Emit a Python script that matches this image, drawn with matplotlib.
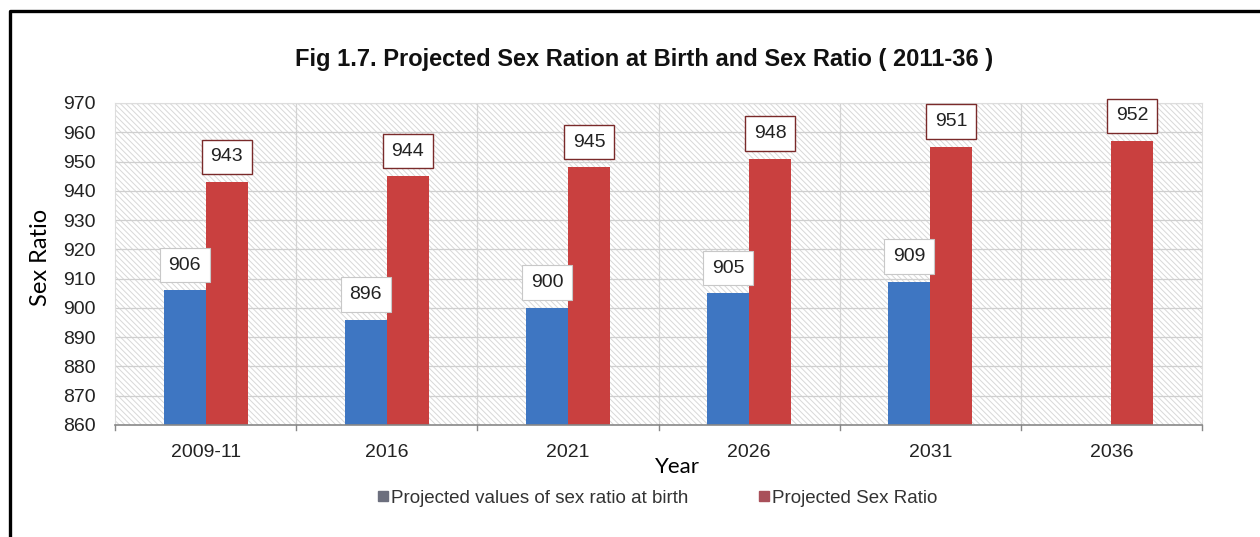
import numpy as np
import matplotlib
matplotlib.use('Agg')
import matplotlib.pyplot as plt
from matplotlib.patches import Rectangle
from matplotlib.lines import Line2D

years = ['2009-11', '2016', '2021', '2026', '2031', '2036']
srb_values = [906, 896, 900, 905, 909, np.nan]
sr_bar_values = [943, 945, 948, 951, 955, 957]
sr_labels = ['943', '944', '945', '948', '951', '952']
y_ticks = list(range(860, 971, 10))

blue = '#3e76c2'
red = '#c9403f'

plt.rcParams['font.family'] = ['Liberation Sans', 'DejaVu Sans']
plt.rcParams['hatch.color'] = '#d8d8d8'
plt.rcParams['hatch.linewidth'] = 0.7

fig = plt.figure(figsize=(12.6, 5.37), dpi=100)
ax = fig.add_axes([0.0913, 0.2086, 0.8627, 0.5996])

# hatched background like the excel plot area
bg = Rectangle((0, 0), 1, 1, transform=ax.transAxes, facecolor='white',
               edgecolor='#d8d8d8', hatch='\\' * 6, linewidth=0, zorder=0)
ax.add_patch(bg)

x = np.arange(len(years))
w = 0.232
ax.bar(x - w / 2, srb_values, w, color=blue, zorder=3)
ax.bar(x + w / 2, sr_bar_values, w, color=red, zorder=3)

for xi, v in zip(x, srb_values):
    if np.isnan(v):
        continue
    ax.annotate(str(int(v)), (xi - w / 2, v), xytext=(0, 12), textcoords='offset points',
                ha='center', va='bottom', fontsize=14, color='#222222', zorder=5,
                bbox=dict(boxstyle='square,pad=0.45', facecolor='white', edgecolor='#c8c8c8', linewidth=0.8))

for xi, v, lab in zip(x, sr_bar_values, sr_labels):
    ax.annotate(lab, (xi + w / 2, v), xytext=(0, 12), textcoords='offset points',
                ha='center', va='bottom', fontsize=14, color='#222222', zorder=5,
                bbox=dict(boxstyle='square,pad=0.45', facecolor='white', edgecolor='#7a2a2a', linewidth=1.0))

ax.set_xlim(-0.5, len(years) - 0.5)
ax.set_ylim(860, 970)
ax.set_yticks(y_ticks)
ax.set_yticklabels([str(t) for t in y_ticks], fontsize=14, color='#222222')
ax.set_xticks(x)
ax.set_xticklabels(years, fontsize=14, color='#222222')
ax.tick_params(axis='x', length=0, pad=14)
ax.tick_params(axis='y', length=0, pad=14)

# category boundary ticks and vertical gridlines
for b in np.arange(-0.5, len(years), 1.0):
    ax.plot([b, b], [860, 858.2], color='#888888', lw=1, clip_on=False, zorder=4)
    if -0.5 < b < len(years) - 0.5:
        ax.axvline(b, color='#d4d4d4', lw=0.9, zorder=1)
for t in y_ticks[1:]:
    ax.axhline(t, color='#cfcfcf', lw=0.9, zorder=1)

for s in ['top', 'right', 'left']:
    ax.spines[s].set_color('#dddddd')
    ax.spines[s].set_linewidth(0.8)
ax.spines['bottom'].set_color('#888888')
ax.spines['bottom'].set_linewidth(1.2)
ax.spines['bottom'].set_zorder(4)

fig.text(0.511, 0.89, 'Fig 1.7. Projected Sex Ration at Birth and Sex Ratio ( 2011-36 )',
         ha='center', va='center', fontsize=17, fontweight='bold', color='#111111')
fig.text(0.032, 0.52, 'Sex Ratio', rotation=90, ha='center', va='center',
         fontsize=17, family=['Lato', 'DejaVu Sans'], color='black')
fig.text(0.538, 0.130, 'Year', ha='center', va='center',
         fontsize=16, family=['Lato', 'DejaVu Sans'], color='black')

handles = [Line2D([], [], marker='s', linestyle='none', markersize=7, color='#6c6f7e'),
           Line2D([], [], marker='s', linestyle='none', markersize=7, color='#a9505a')]
fig.legend(handles, ['Projected values of sex ratio at birth', 'Projected Sex Ratio'],
           loc='center', bbox_to_anchor=(0.521, 0.072), ncol=2, frameon=False,
           fontsize=13.5, labelcolor='#333333', handletextpad=0.05, columnspacing=3.6,
           handlelength=0.8)

# outer frame (left and top edges)
fy = 1 - 11 / 537
fx = 10 / 1260
fig.add_artist(Line2D([fx, fx, 1.0], [0.0, fy, fy], transform=fig.transFigure,
                      color='black', linewidth=2.4))

fig.savefig('out.png', dpi=100)
